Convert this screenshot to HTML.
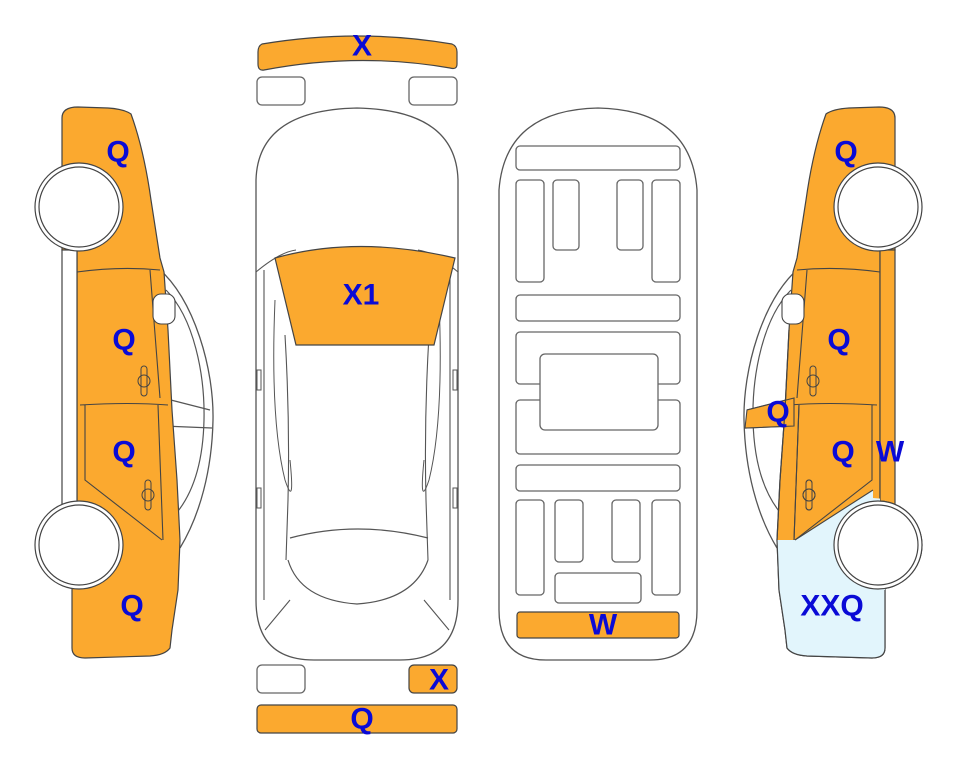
<!DOCTYPE html>
<html><head><meta charset="utf-8"><style>
html,body{margin:0;padding:0;background:#fff;}
svg{display:block}
text{font-family:"Liberation Sans",Arial,sans-serif;font-weight:bold;fill:#0a0ad6;text-anchor:middle;dominant-baseline:central;}
</style></head><body>
<svg width="963" height="768" viewBox="0 0 963 768" xmlns="http://www.w3.org/2000/svg">
<defs>
<g id="side">
  <path d="M158,268 C195,300 214,370 213,420 C212,470 200,515 180,548" fill="none" stroke="#555" stroke-width="1.3"/>
  <path d="M166,290 C194,318 205,375 204,420 C203,465 192,500 168,522" fill="none" stroke="#555" stroke-width="1.2"/>
  <path d="M163,398 L210,410 M163,426 L212,428" fill="none" stroke="#555" stroke-width="1.2"/>
  <path id="bodyp" d="M62,118 Q62,107 78,107 L108,108 Q124,109 131,114 Q144,150 151,200 L160,258 L164,272 L168,330 L172,410 L177,480 L180,540 L178,590 L172,630 L170,648 Q165,655 150,656 L85,658 Q72,658 72,648 L72,590 L77,505 L77,250 L62,250 Z" fill="var(--bf)" stroke="#444" stroke-width="1.2"/>
  <rect x="62" y="250" width="15" height="258" fill="var(--sf)" stroke="#444" stroke-width="1.2"/>
  <path d="M77,272 Q120,266 160,270 M150,270 L160,398 M80,405 Q130,402 168,405 M85,405 L85,480 L162,540 M158,405 L163,540" fill="none" stroke="#444" stroke-width="1.1"/>
  <rect x="153" y="294" width="22" height="30" rx="8" fill="#fff" stroke="#444" stroke-width="1.1"/>
  <rect x="141" y="366" width="6" height="30" rx="3" fill="none" stroke="#444"/>
  <circle cx="144" cy="381" r="6" fill="none" stroke="#444"/>
  <rect x="145" y="480" width="6" height="30" rx="3" fill="none" stroke="#444"/>
  <circle cx="148" cy="495" r="6" fill="none" stroke="#444"/>
  <circle cx="79" cy="207" r="44" fill="#fff" stroke="#444" stroke-width="1.2"/>
  <circle cx="79" cy="207" r="40" fill="#fff" stroke="#444" stroke-width="1.2"/>
  <circle cx="79" cy="545" r="44" fill="#fff" stroke="#444" stroke-width="1.2"/>
  <circle cx="79" cy="545" r="40" fill="#fff" stroke="#444" stroke-width="1.2"/>
</g>
<clipPath id="bc"><use href="#bodyp"/></clipPath>
</defs>

<g style="--bf:#fba92f;--sf:#fff">
  <use href="#side"/>
</g>
<text x="118" y="152" font-size="30">Q</text>
<text x="124" y="340" font-size="30">Q</text>
<text x="124" y="452" font-size="30">Q</text>
<text x="132" y="606" font-size="30">Q</text>

<g transform="matrix(-1,0,0,1,957,0)">
  <g style="--bf:#fba92f;--sf:#fba92f"><use href="#side"/></g>
  <path d="M62,500 L84,498 L84,490 L162,540 L185,540 L185,670 L62,670 Z" fill="#e2f5fc" clip-path="url(#bc)"/>
  <path d="M84,490 L162,540 M158,405 L163,540" fill="none" stroke="#444" stroke-width="1.1"/>
  <path d="M163,398 L210,410 L212,428 L163,426 Z" fill="#fba92f" stroke="#444" stroke-width="1.1"/>
  <path d="M168,330 L172,410 L177,480 L180,540 L178,590 L172,630 L170,648 Q165,655 150,656 L85,658 Q72,658 72,648 L72,590" fill="none" stroke="#444" stroke-width="1.2"/>
  <circle cx="79" cy="545" r="44" fill="#fff" stroke="#444" stroke-width="1.2"/>
  <circle cx="79" cy="545" r="40" fill="#fff" stroke="#444" stroke-width="1.2"/>
  <rect x="145" y="480" width="6" height="30" rx="3" fill="none" stroke="#444"/>
  <circle cx="148" cy="495" r="6" fill="none" stroke="#444"/>
</g>
<text x="846" y="152" font-size="30">Q</text>
<text x="839" y="340" font-size="30">Q</text>
<text x="778" y="412" font-size="30">Q</text>
<text x="843" y="452" font-size="30">Q</text>
<text x="890" y="452" font-size="30">W</text>
<text x="832" y="606" font-size="30">XXQ</text>

<path d="M262,44 Q358,28 452,44 Q457,46 457,52 L457,64 Q457,70 450,68 Q358,52 264,70 Q258,71 258,64 L258,52 Q258,46 262,44 Z" fill="#fba92f" stroke="#444" stroke-width="1.2" stroke-linejoin="round"/>
<text x="362" y="46" font-size="30">X</text>
<rect x="257" y="77" width="48" height="28" rx="5" fill="#fff" stroke="#666" stroke-width="1.3"/>
<rect x="409" y="77" width="48" height="28" rx="5" fill="#fff" stroke="#666" stroke-width="1.3"/>
<path d="M256,180 Q258,110 357,108 Q456,110 458,180 L458,600 Q458,660 400,660 L314,660 Q256,660 256,600 Z" fill="#fff" stroke="#555" stroke-width="1.3"/>
<path d="M256,272 Q280,252 296,250 M458,272 Q434,252 418,250" fill="none" stroke="#555" stroke-width="1.1"/>
<path d="M264,270 L264,600 M450,270 L450,600 M285,335 Q290,420 288,500 L286,560 M429,335 Q424,420 426,500 L428,560" fill="none" stroke="#555" stroke-width="1.1"/>
<path d="M275,300 Q270,420 285,480 Q295,510 290,460 M439,300 Q444,420 429,480 Q419,510 424,460" fill="none" stroke="#555" stroke-width="1"/>
<rect x="257" y="370" width="4" height="20" fill="none" stroke="#555"/>
<rect x="453" y="370" width="4" height="20" fill="none" stroke="#555"/>
<rect x="257" y="488" width="4" height="20" fill="none" stroke="#555"/>
<rect x="453" y="488" width="4" height="20" fill="none" stroke="#555"/>
<path d="M275,258 Q357,235 455,258 L434,345 L296,345 Z" fill="#fba92f" stroke="#444" stroke-width="1.2"/>
<text x="361" y="295" font-size="30">X1</text>
<path d="M290,538 Q357,520 428,538 M288,560 Q300,600 357,604 Q414,600 428,560" fill="none" stroke="#555" stroke-width="1.2"/>
<path d="M265,630 L290,600 M449,630 L424,600" fill="none" stroke="#555" stroke-width="1.1"/>
<rect x="257" y="665" width="48" height="28" rx="5" fill="#fff" stroke="#666" stroke-width="1.3"/>
<rect x="409" y="665" width="48" height="28" rx="5" fill="#fba92f" stroke="#444" stroke-width="1.2"/>
<text x="439" y="680" font-size="30">X</text>
<rect x="257" y="705" width="200" height="28" rx="4" fill="#fba92f" stroke="#444" stroke-width="1.2"/>
<text x="362" y="719" font-size="30">Q</text>

<g fill="#fff" stroke="#666" stroke-width="1.3">
<path d="M499,190 Q505,110 598,108 Q691,110 697,190 L697,610 Q697,660 650,660 L546,660 Q499,660 499,610 Z" stroke="#555"/>
<rect x="516" y="146" width="164" height="24" rx="4"/>
<rect x="516" y="180" width="28" height="102" rx="4"/>
<rect x="553" y="180" width="26" height="70" rx="4"/>
<rect x="617" y="180" width="26" height="70" rx="4"/>
<rect x="652" y="180" width="28" height="102" rx="4"/>
<rect x="516" y="295" width="164" height="26" rx="4"/>
<rect x="516" y="332" width="164" height="52" rx="4"/>
<rect x="516" y="400" width="164" height="54" rx="4"/>
<rect x="540" y="354" width="118" height="76" rx="5"/>
<rect x="516" y="465" width="164" height="26" rx="4"/>
<rect x="516" y="500" width="28" height="95" rx="4"/>
<rect x="555" y="500" width="28" height="62" rx="4"/>
<rect x="612" y="500" width="28" height="62" rx="4"/>
<rect x="652" y="500" width="28" height="95" rx="4"/>
<rect x="555" y="573" width="86" height="30" rx="4"/>
</g>
<rect x="517" y="612" width="162" height="26" rx="3" fill="#fba92f" stroke="#444" stroke-width="1.2"/>
<text x="603" y="625" font-size="30">W</text>
</svg>
</body></html>
